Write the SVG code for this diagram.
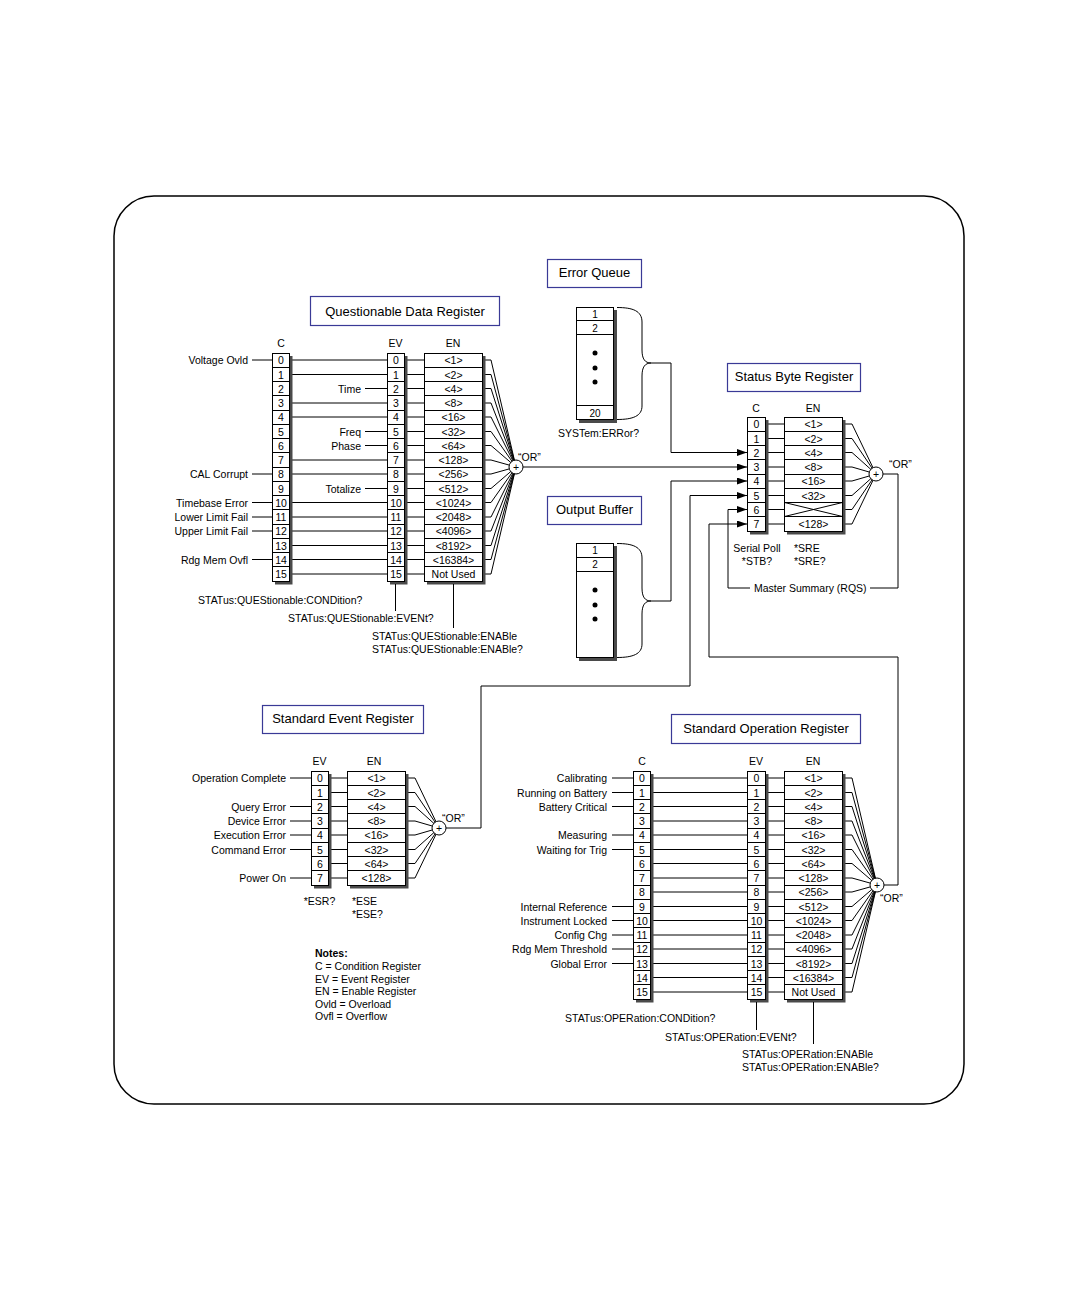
<svg xmlns="http://www.w3.org/2000/svg" width="1080" height="1296" viewBox="0 0 1080 1296">
<defs>
<style>
.t{font-family:"Liberation Sans",Arial,sans-serif;font-size:10.5px;fill:#000}
.tt{font-family:"Liberation Sans",Arial,sans-serif;font-size:13px;fill:#000;text-anchor:middle}
.c{text-anchor:middle}
.r{text-anchor:end}
.b{font-weight:bold}
.ln{stroke:#000;stroke-width:1;fill:none}
.cell{fill:#fff;stroke:#000;stroke-width:1}
.sh{fill:#4a4a4a}
.tbox{fill:#fff;stroke:#3a3a96;stroke-width:1.2}
.orc{fill:#fff;stroke:#000;stroke-width:1}
</style>
<marker id="arr" viewBox="0 0 10 7" refX="10" refY="3.5" markerWidth="10" markerHeight="7" markerUnits="userSpaceOnUse" orient="auto">
<path d="M0 0L10 3.5L0 7z" fill="#000"/>
</marker>
</defs>
<rect x="0" y="0" width="1080" height="1296" fill="#fff"/>
<rect x="114" y="196" width="850" height="908" rx="40" ry="40" fill="none" stroke="#000" stroke-width="1.5"/>

<!-- Questionable Data Register -->
<g id="questionable-data-register">
<rect class="tbox" x="310.5" y="296.5" width="189" height="29"/>
<text class="tt" x="405" y="315.5">Questionable Data Register</text>
<text class="t c" x="281" y="347">C</text>
<text class="t c" x="395.5" y="347">EV</text>
<text class="t c" x="453" y="347">EN</text>
<!-- inner lines -->
<path class="ln" d="M292 360H387M292 374.5H387M292 403H387M292 417H387M292 460H387M292 474H387M292 502.5H387M292 517H387M292 531H387M292 545.5H387M292 559.5H387M292 574H387"/>
<path class="ln" d="M365 388.5H387M365 431.5H387M365 445.5H387M365 488.5H387"/>
<path class="ln" d="M252 360H272M252 474H272M252 502.5H272M252 517H272M252 531H272M252 559.5H272"/>
<path class="ln" d="M407 360H424M407 374.5H424M407 388.5H424M407 403H424M407 417H424M407 431.5H424M407 445.5H424M407 460H424M407 474H424M407 488.5H424M407 502.5H424M407 517H424M407 531H424M407 545.5H424M407 559.5H424M407 574H424"/>
<path class="ln" d="M485 360H491L516 467M485 374.5H491L516 467M485 388.5H491L516 467M485 403H491L516 467M485 417H491L516 467M485 431.5H491L516 467M485 445.5H491L516 467M485 460H491L516 467M485 474H491L516 467M485 488.5H491L516 467M485 502.5H491L516 467M485 517H491L516 467M485 531H491L516 467M485 545.5H491L516 467M485 559.5H491L516 467M485 574H491L516 467"/>
<!-- C column -->
<rect class="sh" x="275" y="356" width="17.5" height="228.5"/>
<rect class="cell" x="272.5" y="353.5" width="17" height="228"/>
<path class="ln" d="M272.5 367.5H289.5M272.5 381.5H289.5M272.5 395.5H289.5M272.5 410.5H289.5M272.5 424.5H289.5M272.5 438.5H289.5M272.5 452.5H289.5M272.5 467.5H289.5M272.5 481.5H289.5M272.5 495.5H289.5M272.5 509.5H289.5M272.5 524.5H289.5M272.5 538.5H289.5M272.5 552.5H289.5M272.5 566.5H289.5"/>
<g class="t c">
<text x="281" y="364">0</text><text x="281" y="378.5">1</text><text x="281" y="392.5">2</text><text x="281" y="407">3</text><text x="281" y="421">4</text><text x="281" y="435.5">5</text><text x="281" y="449.5">6</text><text x="281" y="464">7</text><text x="281" y="478">8</text><text x="281" y="492.5">9</text><text x="281" y="506.5">10</text><text x="281" y="521">11</text><text x="281" y="535">12</text><text x="281" y="549.5">13</text><text x="281" y="563.5">14</text><text x="281" y="578">15</text>
</g>
<!-- EV column -->
<rect class="sh" x="390" y="356" width="17.5" height="228.5"/>
<rect class="cell" x="387.5" y="353.5" width="17" height="228"/>
<path class="ln" d="M387.5 367.5H404.5M387.5 381.5H404.5M387.5 395.5H404.5M387.5 410.5H404.5M387.5 424.5H404.5M387.5 438.5H404.5M387.5 452.5H404.5M387.5 467.5H404.5M387.5 481.5H404.5M387.5 495.5H404.5M387.5 509.5H404.5M387.5 524.5H404.5M387.5 538.5H404.5M387.5 552.5H404.5M387.5 566.5H404.5"/>
<g class="t c">
<text x="396" y="364">0</text><text x="396" y="378.5">1</text><text x="396" y="392.5">2</text><text x="396" y="407">3</text><text x="396" y="421">4</text><text x="396" y="435.5">5</text><text x="396" y="449.5">6</text><text x="396" y="464">7</text><text x="396" y="478">8</text><text x="396" y="492.5">9</text><text x="396" y="506.5">10</text><text x="396" y="521">11</text><text x="396" y="535">12</text><text x="396" y="549.5">13</text><text x="396" y="563.5">14</text><text x="396" y="578">15</text>
</g>
<!-- EN column -->
<rect class="sh" x="427" y="356" width="58.5" height="228.5"/>
<rect class="cell" x="424.5" y="353.5" width="58" height="228"/>
<path class="ln" d="M424.5 367.5H482.5M424.5 381.5H482.5M424.5 395.5H482.5M424.5 410.5H482.5M424.5 424.5H482.5M424.5 438.5H482.5M424.5 452.5H482.5M424.5 467.5H482.5M424.5 481.5H482.5M424.5 495.5H482.5M424.5 509.5H482.5M424.5 524.5H482.5M424.5 538.5H482.5M424.5 552.5H482.5M424.5 566.5H482.5"/>
<g class="t c">
<text x="453.5" y="364">&lt;1&gt;</text><text x="453.5" y="378.5">&lt;2&gt;</text><text x="453.5" y="392.5">&lt;4&gt;</text><text x="453.5" y="407">&lt;8&gt;</text><text x="453.5" y="421">&lt;16&gt;</text><text x="453.5" y="435.5">&lt;32&gt;</text><text x="453.5" y="449.5">&lt;64&gt;</text><text x="453.5" y="464">&lt;128&gt;</text><text x="453.5" y="478">&lt;256&gt;</text><text x="453.5" y="492.5">&lt;512&gt;</text><text x="453.5" y="506.5">&lt;1024&gt;</text><text x="453.5" y="521">&lt;2048&gt;</text><text x="453.5" y="535">&lt;4096&gt;</text><text x="453.5" y="549.5">&lt;8192&gt;</text><text x="453.5" y="563.5">&lt;16384&gt;</text><text x="453.5" y="578">Not Used</text>
</g>
<circle class="orc" cx="516" cy="467" r="7"/>
<text class="t c" x="516" y="471">+</text>
<text class="t" x="518" y="461">“OR”</text>
<!-- labels -->
<g class="t r">
<text x="248" y="364">Voltage Ovld</text>
<text x="248" y="478">CAL Corrupt</text>
<text x="248" y="506.5">Timebase Error</text>
<text x="248" y="521">Lower Limit Fail</text>
<text x="248" y="535">Upper Limit Fail</text>
<text x="248" y="563.5">Rdg Mem Ovfl</text>
<text x="361" y="392.5">Time</text>
<text x="361" y="435.5">Freq</text>
<text x="361" y="449.5">Phase</text>
<text x="361" y="492.5">Totalize</text>
</g>
<path class="ln" d="M395.5 584V611M453.5 584V628"/>
<g class="t">
<text x="198" y="604">STATus:QUEStionable:CONDition?</text>
<text x="288" y="622">STATus:QUEStionable:EVENt?</text>
<text x="372" y="640">STATus:QUEStionable:ENABle</text>
<text x="372" y="653">STATus:QUEStionable:ENABle?</text>
</g>
</g>

<!-- Error Queue -->
<g id="error-queue">
<rect class="tbox" x="547.5" y="259.5" width="94" height="28"/>
<text class="tt" x="594.5" y="277">Error Queue</text>
<rect class="sh" x="579" y="310" width="38" height="113"/>
<rect class="cell" x="576.5" y="307.5" width="37" height="112"/>
<path class="ln" d="M576.5 320.5H613.5M576.5 334.5H613.5M576.5 405.5H613.5"/>
<g class="t c" style="font-size:10px">
<text x="595" y="317.5">1</text><text x="595" y="331.5">2</text><text x="595" y="416.5">20</text>
</g>
<circle cx="595" cy="353" r="2.5" fill="#000"/><circle cx="595" cy="368" r="2.5" fill="#000"/><circle cx="595" cy="382" r="2.5" fill="#000"/>
<path class="ln" d="M617 307.5C633 307.5 642 311 642 322V350C642 359 645 363 651 363C645 363 642 367 642 376V406C642 416 633 419.5 617 419.5"/>
<text class="t" x="558" y="437">SYSTem:ERRor?</text>
</g>

<!-- Output Buffer -->
<g id="output-buffer">
<rect class="tbox" x="547.5" y="496.5" width="94" height="28"/>
<text class="tt" x="594.5" y="514">Output Buffer</text>
<rect class="sh" x="579" y="546" width="38" height="115"/>
<rect class="cell" x="576.5" y="543.5" width="37" height="114"/>
<path class="ln" d="M576.5 557.5H613.5M576.5 571.5H613.5"/>
<g class="t c" style="font-size:10px">
<text x="595" y="554">1</text><text x="595" y="568">2</text>
</g>
<circle cx="595" cy="590" r="2.5" fill="#000"/><circle cx="595" cy="605" r="2.5" fill="#000"/><circle cx="595" cy="619" r="2.5" fill="#000"/>
<path class="ln" d="M617 543.5C633 543.5 642 547 642 558V588C642 597 645 601 651 601C645 601 642 605 642 614V644C642 654 633 657.5 617 657.5"/>
</g>

<!-- Status Byte Register -->
<g id="status-byte-register">
<rect class="tbox" x="727.5" y="363.5" width="133" height="28"/>
<text class="tt" x="794" y="381">Status Byte Register</text>
<text class="t c" x="756" y="412">C</text>
<text class="t c" x="813" y="412">EN</text>
<path class="ln" d="M768 424H784M768 438.5H784M768 452.5H784M768 467H784M768 481H784M768 495.5H784M768 509.5H784M768 524H784"/>
<path class="ln" d="M845 424H852L876 474M845 438.5H852L876 474M845 452.5H852L876 474M845 467H852L876 474M845 481H852L876 474M845 495.5H852L876 474M845 509.5H852L876 474M845 524H852L876 474"/>
<rect class="sh" x="750" y="420" width="18.5" height="114.5"/>
<rect class="cell" x="747.5" y="417.5" width="18" height="114"/>
<path class="ln" d="M747.5 431.5H765.5M747.5 445.5H765.5M747.5 459.5H765.5M747.5 474.5H765.5M747.5 488.5H765.5M747.5 502.5H765.5M747.5 516.5H765.5"/>
<g class="t c">
<text x="756.5" y="428">0</text><text x="756.5" y="442.5">1</text><text x="756.5" y="456.5">2</text><text x="756.5" y="471">3</text><text x="756.5" y="485">4</text><text x="756.5" y="499.5">5</text><text x="756.5" y="513.5">6</text><text x="756.5" y="528">7</text>
</g>
<rect class="sh" x="787" y="420" width="58.5" height="114.5"/>
<rect class="cell" x="784.5" y="417.5" width="58" height="114"/>
<path class="ln" d="M784.5 431.5H842.5M784.5 445.5H842.5M784.5 459.5H842.5M784.5 474.5H842.5M784.5 488.5H842.5M784.5 502.5H842.5M784.5 516.5H842.5"/>
<path class="ln" d="M784.5 502.5L842.5 516.5M784.5 516.5L842.5 502.5"/>
<g class="t c">
<text x="813.5" y="428">&lt;1&gt;</text><text x="813.5" y="442.5">&lt;2&gt;</text><text x="813.5" y="456.5">&lt;4&gt;</text><text x="813.5" y="471">&lt;8&gt;</text><text x="813.5" y="485">&lt;16&gt;</text><text x="813.5" y="499.5">&lt;32&gt;</text><text x="813.5" y="528">&lt;128&gt;</text>
</g>
<circle class="orc" cx="876" cy="474" r="7"/>
<text class="t c" x="876" y="478">+</text>
<text class="t" x="889" y="468">“OR”</text>
<g class="t">
<text class="c" x="757" y="552">Serial Poll</text>
<text class="c" x="757" y="565">*STB?</text>
<text x="794" y="552">*SRE</text>
<text x="794" y="565">*SRE?</text>
<text x="754" y="592">Master Summary (RQS)</text>
</g>
</g>

<!-- Standard Event Register -->
<g id="standard-event-register">
<rect class="tbox" x="262.5" y="705.5" width="161" height="28"/>
<text class="tt" x="343" y="723">Standard Event Register</text>
<text class="t c" x="319.5" y="765">EV</text>
<text class="t c" x="374" y="765">EN</text>
<path class="ln" d="M290 778H311M290 806.5H311M290 821H311M290 835H311M290 849.5H311M290 878H311"/>
<path class="ln" d="M331 778H347M331 792.5H347M331 806.5H347M331 821H347M331 835H347M331 849.5H347M331 863.5H347M331 878H347"/>
<path class="ln" d="M408 778H415L439 828M408 792.5H415L439 828M408 806.5H415L439 828M408 821H415L439 828M408 835H415L439 828M408 849.5H415L439 828M408 863.5H415L439 828M408 878H415L439 828"/>
<rect class="sh" x="314" y="774" width="17.5" height="114.5"/>
<rect class="cell" x="311.5" y="771.5" width="17" height="114"/>
<path class="ln" d="M311.5 785.5H328.5M311.5 799.5H328.5M311.5 813.5H328.5M311.5 828.5H328.5M311.5 842.5H328.5M311.5 856.5H328.5M311.5 870.5H328.5"/>
<g class="t c">
<text x="320" y="782">0</text><text x="320" y="796.5">1</text><text x="320" y="810.5">2</text><text x="320" y="825">3</text><text x="320" y="839">4</text><text x="320" y="853.5">5</text><text x="320" y="867.5">6</text><text x="320" y="882">7</text>
</g>
<rect class="sh" x="350" y="774" width="58.5" height="114.5"/>
<rect class="cell" x="347.5" y="771.5" width="58" height="114"/>
<path class="ln" d="M347.5 785.5H405.5M347.5 799.5H405.5M347.5 813.5H405.5M347.5 828.5H405.5M347.5 842.5H405.5M347.5 856.5H405.5M347.5 870.5H405.5"/>
<g class="t c">
<text x="376.5" y="782">&lt;1&gt;</text><text x="376.5" y="796.5">&lt;2&gt;</text><text x="376.5" y="810.5">&lt;4&gt;</text><text x="376.5" y="825">&lt;8&gt;</text><text x="376.5" y="839">&lt;16&gt;</text><text x="376.5" y="853.5">&lt;32&gt;</text><text x="376.5" y="867.5">&lt;64&gt;</text><text x="376.5" y="882">&lt;128&gt;</text>
</g>
<circle class="orc" cx="439" cy="828" r="7"/>
<text class="t c" x="439" y="832">+</text>
<text class="t" x="442" y="822">“OR”</text>
<g class="t r">
<text x="286" y="782">Operation Complete</text>
<text x="286" y="810.5">Query Error</text>
<text x="286" y="825">Device Error</text>
<text x="286" y="839">Execution Error</text>
<text x="286" y="853.5">Command Error</text>
<text x="286" y="882">Power On</text>
</g>
<g class="t">
<text class="c" x="319.5" y="905">*ESR?</text>
<text x="352" y="905">*ESE</text>
<text x="352" y="918">*ESE?</text>
</g>
</g>

<!-- Standard Operation Register -->
<g id="standard-operation-register">
<rect class="tbox" x="671.5" y="714.5" width="189" height="29"/>
<text class="tt" x="766" y="733">Standard Operation Register</text>
<text class="t c" x="642" y="765">C</text>
<text class="t c" x="756" y="765">EV</text>
<text class="t c" x="813" y="765">EN</text>
<path class="ln" d="M612 778H633M612 792.5H633M612 806.5H633M612 835H633M612 849.5H633M612 906.5H633M612 920.5H633M612 935H633M612 949H633M612 963.5H633"/>
<path class="ln" d="M653 778H747M653 792.5H747M653 806.5H747M653 821H747M653 835H747M653 849.5H747M653 863.5H747M653 878H747M653 892H747M653 906.5H747M653 920.5H747M653 935H747M653 949H747M653 963.5H747M653 977.5H747M653 992H747"/>
<path class="ln" d="M768 778H784M768 792.5H784M768 806.5H784M768 821H784M768 835H784M768 849.5H784M768 863.5H784M768 878H784M768 892H784M768 906.5H784M768 920.5H784M768 935H784M768 949H784M768 963.5H784M768 977.5H784M768 992H784"/>
<path class="ln" d="M845 778H852L877 885M845 792.5H852L877 885M845 806.5H852L877 885M845 821H852L877 885M845 835H852L877 885M845 849.5H852L877 885M845 863.5H852L877 885M845 878H852L877 885M845 892H852L877 885M845 906.5H852L877 885M845 920.5H852L877 885M845 935H852L877 885M845 949H852L877 885M845 963.5H852L877 885M845 977.5H852L877 885M845 992H852L877 885"/>
<rect class="sh" x="636" y="774" width="17.5" height="228.5"/>
<rect class="cell" x="633.5" y="771.5" width="17" height="228"/>
<path class="ln" d="M633.5 785.5H650.5M633.5 799.5H650.5M633.5 813.5H650.5M633.5 828.5H650.5M633.5 842.5H650.5M633.5 856.5H650.5M633.5 870.5H650.5M633.5 885.5H650.5M633.5 899.5H650.5M633.5 913.5H650.5M633.5 927.5H650.5M633.5 942.5H650.5M633.5 956.5H650.5M633.5 970.5H650.5M633.5 984.5H650.5"/>
<g class="t c">
<text x="642" y="782">0</text><text x="642" y="796.5">1</text><text x="642" y="810.5">2</text><text x="642" y="825">3</text><text x="642" y="839">4</text><text x="642" y="853.5">5</text><text x="642" y="867.5">6</text><text x="642" y="882">7</text><text x="642" y="896">8</text><text x="642" y="910.5">9</text><text x="642" y="924.5">10</text><text x="642" y="939">11</text><text x="642" y="953">12</text><text x="642" y="967.5">13</text><text x="642" y="981.5">14</text><text x="642" y="996">15</text>
</g>
<rect class="sh" x="750" y="774" width="18.5" height="228.5"/>
<rect class="cell" x="747.5" y="771.5" width="18" height="228"/>
<path class="ln" d="M747.5 785.5H765.5M747.5 799.5H765.5M747.5 813.5H765.5M747.5 828.5H765.5M747.5 842.5H765.5M747.5 856.5H765.5M747.5 870.5H765.5M747.5 885.5H765.5M747.5 899.5H765.5M747.5 913.5H765.5M747.5 927.5H765.5M747.5 942.5H765.5M747.5 956.5H765.5M747.5 970.5H765.5M747.5 984.5H765.5"/>
<g class="t c">
<text x="756.5" y="782">0</text><text x="756.5" y="796.5">1</text><text x="756.5" y="810.5">2</text><text x="756.5" y="825">3</text><text x="756.5" y="839">4</text><text x="756.5" y="853.5">5</text><text x="756.5" y="867.5">6</text><text x="756.5" y="882">7</text><text x="756.5" y="896">8</text><text x="756.5" y="910.5">9</text><text x="756.5" y="924.5">10</text><text x="756.5" y="939">11</text><text x="756.5" y="953">12</text><text x="756.5" y="967.5">13</text><text x="756.5" y="981.5">14</text><text x="756.5" y="996">15</text>
</g>
<rect class="sh" x="787" y="774" width="58.5" height="228.5"/>
<rect class="cell" x="784.5" y="771.5" width="58" height="228"/>
<path class="ln" d="M784.5 785.5H842.5M784.5 799.5H842.5M784.5 813.5H842.5M784.5 828.5H842.5M784.5 842.5H842.5M784.5 856.5H842.5M784.5 870.5H842.5M784.5 885.5H842.5M784.5 899.5H842.5M784.5 913.5H842.5M784.5 927.5H842.5M784.5 942.5H842.5M784.5 956.5H842.5M784.5 970.5H842.5M784.5 984.5H842.5"/>
<g class="t c">
<text x="813.5" y="782">&lt;1&gt;</text><text x="813.5" y="796.5">&lt;2&gt;</text><text x="813.5" y="810.5">&lt;4&gt;</text><text x="813.5" y="825">&lt;8&gt;</text><text x="813.5" y="839">&lt;16&gt;</text><text x="813.5" y="853.5">&lt;32&gt;</text><text x="813.5" y="867.5">&lt;64&gt;</text><text x="813.5" y="882">&lt;128&gt;</text><text x="813.5" y="896">&lt;256&gt;</text><text x="813.5" y="910.5">&lt;512&gt;</text><text x="813.5" y="924.5">&lt;1024&gt;</text><text x="813.5" y="939">&lt;2048&gt;</text><text x="813.5" y="953">&lt;4096&gt;</text><text x="813.5" y="967.5">&lt;8192&gt;</text><text x="813.5" y="981.5">&lt;16384&gt;</text><text x="813.5" y="996">Not Used</text>
</g>
<circle class="orc" cx="877" cy="885" r="7"/>
<text class="t c" x="877" y="889">+</text>
<text class="t" x="880" y="902">“OR”</text>
<g class="t r">
<text x="607" y="782">Calibrating</text>
<text x="607" y="796.5">Running on Battery</text>
<text x="607" y="810.5">Battery Critical</text>
<text x="607" y="839">Measuring</text>
<text x="607" y="853.5">Waiting for Trig</text>
<text x="607" y="910.5">Internal Reference</text>
<text x="607" y="924.5">Instrument Locked</text>
<text x="607" y="939">Config Chg</text>
<text x="607" y="953">Rdg Mem Threshold</text>
<text x="607" y="967.5">Global Error</text>
</g>
<path class="ln" d="M756.5 1002V1030M813.5 1002V1044"/>
<g class="t">
<text x="565" y="1022">STATus:OPERation:CONDition?</text>
<text x="665" y="1041">STATus:OPERation:EVENt?</text>
<text x="742" y="1058">STATus:OPERation:ENABle</text>
<text x="742" y="1071">STATus:OPERation:ENABle?</text>
</g>
</g>

<!-- Notes -->
<g id="notes" class="t">
<text class="b" x="315" y="957">Notes:</text>
<text x="315" y="970">C = Condition Register</text>
<text x="315" y="983">EV = Event Register</text>
<text x="315" y="995">EN = Enable Register</text>
<text x="315" y="1008">Ovld = Overload</text>
<text x="315" y="1020">Ovfl = Overflow</text>
</g>

<!-- Connectors -->
<g id="connectors" class="ln">
<path d="M523 467H747" marker-end="url(#arr)"/>
<path d="M651 363H671V452.5H747" marker-end="url(#arr)"/>
<path d="M651 601H671V481H747" marker-end="url(#arr)"/>
<path d="M446 828H481V686H690V495.5H747" marker-end="url(#arr)"/>
<path d="M883 474H898V588H870"/>
<path d="M750 588H728V509.5H747" marker-end="url(#arr)"/>
<path d="M884 885H898V657H709V524H747" marker-end="url(#arr)"/>
</g>
</svg>
